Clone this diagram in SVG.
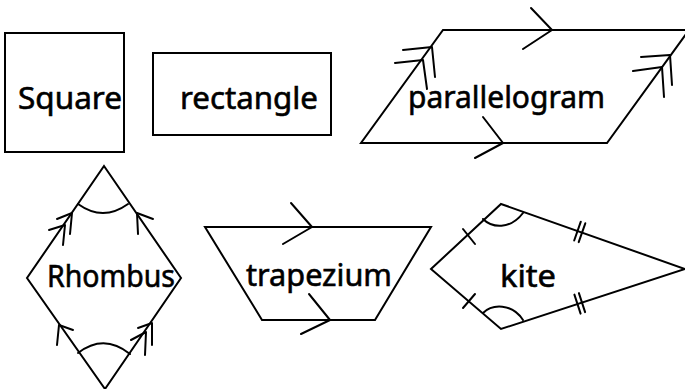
<svg xmlns="http://www.w3.org/2000/svg" width="685" height="389" viewBox="0 0 685 389">
<style>
.s{fill:none;stroke:#000;stroke-width:2;stroke-linejoin:miter;stroke-linecap:butt}
.m{fill:none;stroke:#000;stroke-width:2;stroke-linecap:round;stroke-linejoin:round}
.t{font-family:"Noto Sans","DejaVu Sans",sans-serif;font-size:31px;fill:#000;stroke:#000;stroke-width:0.6}
</style>
<rect width="685" height="389" fill="#fff"/>
<g id="square">
<rect class="s" x="5" y="33" width="119" height="119"/>
<text class="t" x="18" y="109" textLength="104" lengthAdjust="spacingAndGlyphs">Square</text>
</g>
<g id="rectangle">
<rect class="s" x="153" y="53" width="178" height="82"/>
<text class="t" x="180" y="109" textLength="138" lengthAdjust="spacingAndGlyphs">rectangle</text>
</g>
<g id="parallelogram">
<polygon class="s" points="443,30 689,30 607,143 361,143"/>
<polyline class="m" points="531,8 552,30 523,49"/>
<polyline class="m" points="483,117 503,143 475,158"/>
<polyline class="m" points="403,50 432,47 435,77"/>
<polyline class="m" points="395,63 423,60 427,89"/>
<polyline class="m" points="641,57 670,55 672,85"/>
<polyline class="m" points="633,71 662,67 664,97"/>
<text class="t" x="408" y="108" textLength="197" lengthAdjust="spacingAndGlyphs">parallelogram</text>
</g>
<g id="rhombus">
<polygon class="s" points="104,166 181,278 105,389 27,278"/>
<path class="m" d="M78,204 Q103,222 128,204"/>
<path class="m" d="M78,353 Q104,333 130,354"/>
<polyline class="m" points="57,219 72,213 70,234"/>
<polyline class="m" points="49,230 65,225 63,245"/>
<polyline class="m" points="153,219 137,213 138,234"/>
<polyline class="m" points="73,330 59,325 57,345"/>
<polyline class="m" points="138,328 152,323 152,345"/>
<polyline class="m" points="131,340 146,332 145,355"/>
<text class="t" x="47" y="287" textLength="128" lengthAdjust="spacingAndGlyphs">Rhombus</text>
</g>
<g id="trapezium">
<polygon class="s" points="205,227 431,227 375,320 262,320"/>
<polyline class="m" points="291,203 312,227 283,244"/>
<polyline class="m" points="309,294 330,320 301,334"/>
<text class="t" x="246" y="286" textLength="146" lengthAdjust="spacingAndGlyphs">trapezium</text>
</g>
<g id="kite">
<polygon class="s" points="501,204 685,269 501,329 431,269"/>
<line class="m" x1="463" y1="229" x2="475" y2="244"/>
<line class="m" x1="463" y1="308" x2="475" y2="294"/>
<line class="m" x1="580.8" y1="221.7" x2="574.2" y2="240.5"/>
<line class="m" x1="585.3" y1="223.3" x2="578.7" y2="242.1"/>
<line class="m" x1="574.4" y1="294.6" x2="580.6" y2="313.6"/>
<line class="m" x1="578.9" y1="293.1" x2="585.1" y2="312.1"/>
<path class="m" d="M483,219 C492,228 510,230 523,213"/>
<path class="m" d="M483,313 C492,304 512,303 523,320"/>
<text class="t" x="500" y="287" textLength="56" lengthAdjust="spacingAndGlyphs">kite</text>
</g>
</svg>
